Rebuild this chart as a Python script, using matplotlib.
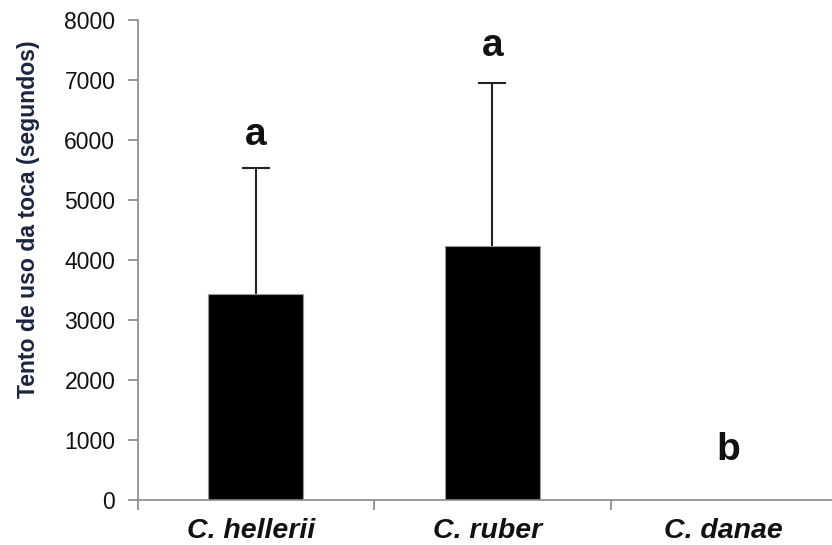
import numpy as np
import matplotlib.pyplot as plt
from matplotlib.ticker import FixedLocator, NullFormatter
from matplotlib.transforms import ScaledTranslation

species = ["C. hellerii", "C. ruber", "C. danae"]
mean_time = [3440, 4240, 0]
err_upper = [2100, 2710, 0]
letters = ["a", "a", "b"]
letter_y = [6080, 7560, 840]

plt.rcParams["font.family"] = ["Liberation Sans", "DejaVu Sans"]

fig = plt.figure(figsize=(8.32, 5.45), dpi=100)
ax = fig.add_axes([137.5 / 832, 45 / 545, 1 - 137.5 / 832, 480 / 545])

x = np.arange(len(species))
ax.bar(x, mean_time, width=0.40, color="black", edgecolor="#999999", linewidth=0.8, zorder=2)
eb = ax.errorbar(x[:2], mean_time[:2], yerr=[[0, 0], err_upper[:2]], fmt="none",
                 ecolor="#222222", elinewidth=1.5, capsize=10, capthick=1.5, zorder=1)
# only the upper half of the error bar is shown
eb[1][0].set_visible(False)

for xi, lab, ly in zip(x, letters, letter_y):
    ax.text(xi, ly, lab, ha="center", va="center", fontsize=28, fontweight="bold", color="#111111")

ax.set_xlim(-0.5, (832 - 137.5) / 236.5 - 0.5)
ax.set_ylim(0, 8000)
ax.set_yticks(range(0, 8001, 1000))
ax.tick_params(axis="y", labelsize=16.5, length=7, width=1.2, color="#888888", pad=9, labelcolor="#111111")

ax.set_xticks(x)
ax.set_xticklabels(species, fontsize=20.5, fontweight="bold", fontstyle="italic", color="#111111")
ax.tick_params(axis="x", which="major", length=0, pad=13)
shift = ScaledTranslation(-5 / 100, 0, fig.dpi_scale_trans)
for lbl in ax.get_xticklabels():
    lbl.set_transform(lbl.get_transform() + shift)
ax.xaxis.set_minor_locator(FixedLocator([-0.5, 0.5, 1.5]))
ax.xaxis.set_minor_formatter(NullFormatter())
ax.tick_params(axis="x", which="minor", length=7, width=1.2, color="#888888")

ax.set_ylabel("Tento de uso da toca (segundos)", fontsize=16.6, fontweight="bold", color="#1c2540")
ax.yaxis.set_label_coords(-0.140, 0.585)

for side in ["top", "right"]:
    ax.spines[side].set_visible(False)
for side in ["left", "bottom"]:
    ax.spines[side].set_color("#888888")
    ax.spines[side].set_linewidth(1.2)

fig.savefig("out.png", dpi=100)
